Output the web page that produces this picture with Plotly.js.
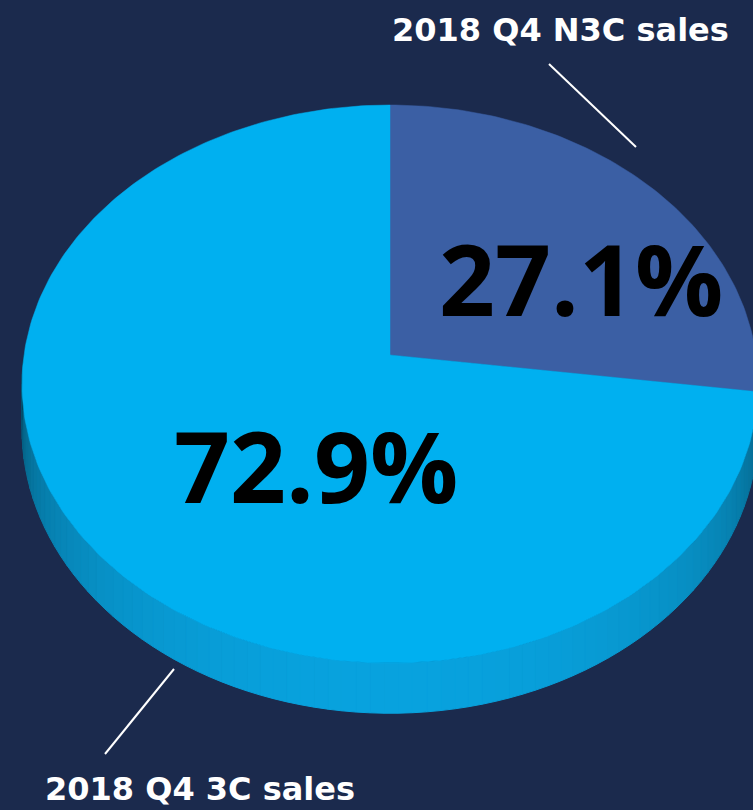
<!DOCTYPE html>
<html>
<head>
<meta charset="utf-8">
<script src="https://cdn.plot.ly/plotly-3.0.1.min.js"></script>
<style>html,body{margin:0;padding:0;background:#1b2a4d;}#chart{width:753px;height:810px;}</style>
</head>
<body>
<div id="chart"></div>
<script>
// ---- data ----
const labels = ['2018 Q4 N3C sales', '2018 Q4 3C sales'];
const values = [27.1, 72.9];
const topColors = ['#3b5fa4', '#00b0f0'];
const wallDark = [[20, 40, 80], [3, 48, 64]];
const wallLight = [[45, 80, 150], [8, 162, 222]];

// ---- geometry of the tilted disk (style) ----
const cx = 390, cy = 355, A = 366, B = 276, P = 0.104, DEPTH = 45;
function proj(phi) {
  const c = Math.cos(phi), s = Math.sin(phi), k = 1 + P * c;
  return [cx + A * s / k, cy - B * c / k];
}
function depthAt(phi) { return DEPTH / (1 + P * Math.cos(phi)); }
function mix(c1, c2, t) {
  return 'rgb(' + c1.map((v, i) => Math.round(v + (c2[i] - v) * t)).join(',') + ')';
}

const total = values.reduce((s, v) => s + v, 0);
const traces = [];
let start = 0;
const sliceAngles = values.map(v => {
  const a0 = start, a1 = start + v / total * 2 * Math.PI;
  start = a1;
  return [a0, a1];
});

// side wall (front half only), shaded by angle
sliceAngles.forEach(([a0, a1], i) => {
  const lo = Math.max(a0, Math.PI / 2), hi = Math.min(a1, 3 * Math.PI / 2);
  if (hi <= lo) return;
  const n = Math.max(2, Math.ceil((hi - lo) / (Math.PI / 90)));
  for (let j = 0; j < n; j++) {
    const p1 = lo + (hi - lo) * j / n, p2 = lo + (hi - lo) * (j + 1) / n;
    const t1 = proj(p1), t2 = proj(p2);
    const pm = (p1 + p2) / 2;
    const f = Math.pow(Math.max(0, -Math.cos(pm)), 0.45);
    const col = mix(wallDark[i], wallLight[i], f);
    traces.push({
      type: 'scatter', mode: 'lines', fill: 'toself', fillcolor: col,
      line: {color: col, width: 1}, hoverinfo: 'skip', showlegend: false,
      x: [t1[0], t2[0], t2[0], t1[0], t1[0]],
      y: [t1[1], t2[1], t2[1] + depthAt(p2), t1[1] + depthAt(p1), t1[1]]
    });
  }
});

// top faces
sliceAngles.forEach(([a0, a1], i) => {
  const xs = [cx], ys = [cy];
  const n = Math.ceil((a1 - a0) / (Math.PI / 180)) + 1;
  for (let j = 0; j <= n; j++) {
    const q = proj(a0 + (a1 - a0) * j / n);
    xs.push(q[0]); ys.push(q[1]);
  }
  xs.push(cx); ys.push(cy);
  traces.push({
    type: 'scatter', mode: 'lines', fill: 'toself', fillcolor: topColors[i],
    line: {color: topColors[i], width: 0.5}, hoverinfo: 'skip', showlegend: false,
    name: labels[i], x: xs, y: ys
  });
});

const pctFont = {family: 'Open Sans, Noto Sans, sans-serif', size: 98, color: '#000000', weight: 700};
const lblFont = {family: 'DejaVu Sans, sans-serif', size: 32, color: '#ffffff', weight: 700};

const layout = {
  width: 753, height: 810,
  margin: {l: 0, r: 0, t: 0, b: 0},
  paper_bgcolor: '#1b2a4d', plot_bgcolor: '#1b2a4d',
  xaxis: {range: [0, 753], visible: false, fixedrange: true},
  yaxis: {range: [810, 0], visible: false, fixedrange: true},
  showlegend: false,
  annotations: [
    {x: 581, y: 278, xref: 'x', yref: 'y', text: values[0].toFixed(1) + '%', showarrow: false, font: pctFont, xanchor: 'center', yanchor: 'middle'},
    {x: 316, y: 465, xref: 'x', yref: 'y', text: values[1].toFixed(1) + '%', showarrow: false, font: pctFont, xanchor: 'center', yanchor: 'middle'},
    {x: 560, y: 30, xref: 'x', yref: 'y', text: '<b>' + labels[0] + '</b>', showarrow: false, font: lblFont, xanchor: 'center', yanchor: 'middle'},
    {x: 200, y: 789, xref: 'x', yref: 'y', text: '<b>' + labels[1] + '</b>', showarrow: false, font: lblFont, xanchor: 'center', yanchor: 'middle'}
  ],
  shapes: [
    {type: 'line', xref: 'x', yref: 'y', x0: 549, y0: 64, x1: 636, y1: 147, line: {color: '#ffffff', width: 2}},
    {type: 'line', xref: 'x', yref: 'y', x0: 174, y0: 669, x1: 105, y1: 754, line: {color: '#ffffff', width: 2}}
  ]
};

Plotly.newPlot('chart', traces, layout, {staticPlot: true, displayModeBar: false});
</script>
</body>
</html>
